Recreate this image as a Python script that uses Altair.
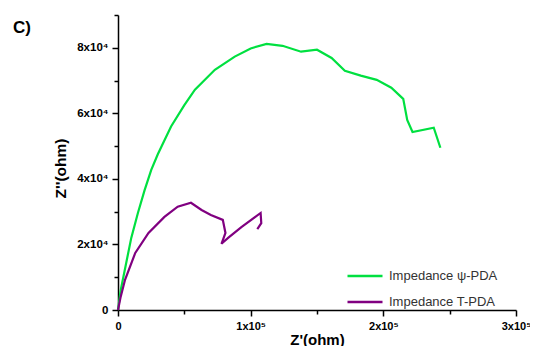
import altair as alt
import pandas as pd

# Impedance psi-PDA (Z' in ohm, Z'' in ohm)
psi_x = [0, 2000, 5000, 10000, 15000, 20000, 25000, 30000, 40000, 50000, 58000, 73000,
         88000, 100000, 112000, 124000, 138000, 150000, 161000, 171000, 183000, 195000,
         206000, 215000, 218000, 222000, 238000, 243000]
psi_y = [0, 6000, 12000, 22000, 29600, 36500, 42700, 47500, 56000, 62500, 67200, 73300,
         77300, 79800, 81200, 80600, 78800, 79400, 76900, 73000, 71500, 70200,
         67800, 64400, 58000, 54300, 55600, 49500]

# Impedance T-PDA
t_x = [0, 2000, 5300, 13000, 23000, 35000, 45000, 55000, 63000, 70000, 79000, 81000,
       78000, 83000, 93000, 107500, 108000, 105000]
t_y = [0, 4000, 9200, 17400, 23500, 28400, 31500, 32700, 30500, 29000, 27500, 23500,
       20200, 22000, 25300, 29600, 26500, 24700]

series_names = ["Impedance \u03c8-PDA", "Impedance T-PDA"]
colors = ["#00e040", "#800080"]

rows = []
for i, (x, y) in enumerate(zip(psi_x, psi_y)):
    rows.append({"x": x, "y": y, "s": series_names[0], "i": i})
for i, (x, y) in enumerate(zip(t_x, t_y)):
    rows.append({"x": x, "y": y, "s": series_names[1], "i": i})
df = pd.DataFrame(rows)

FONT = "Liberation Sans"

x_axis = alt.Axis(
    values=[0, 50000, 100000, 150000, 200000, 250000, 300000],
    labelExpr="datum.value == 0 ? '0' : (datum.value % 100000 == 0 ? (datum.value/100000) + 'x10\u2075' : '')",
    title="Z'(ohm)", titleFont=FONT, titleFontSize=15, titleFontWeight="bold",
    titleColor="black", titlePadding=1,
    labelFont=FONT, labelFontSize=11, labelFontWeight="bold", labelColor="black",
    labelPadding=4, labelFlush=False, labelOverlap=False,
    domainColor="black", domainWidth=1.5, tickColor="black", tickWidth=1.5,
    tickSize=alt.ExprRef(expr="datum.value % 100000 == 0 ? 6 : 4"),
    grid=False,
)
y_axis = alt.Axis(
    values=[0, 10000, 20000, 30000, 40000, 50000, 60000, 70000, 80000, 90000],
    labelExpr="datum.value == 0 ? '0' : (datum.value % 20000 == 0 ? (datum.value/10000) + 'x10\u2074' : '')",
    title="Z''(ohm)", titleFont=FONT, titleFontSize=15.5, titleFontWeight="bold",
    titleColor="black", titlePadding=8, titleY=153,
    labelFont=FONT, labelFontSize=11.5, labelFontWeight="bold", labelColor="black",
    labelPadding=4, labelFlush=False, labelOverlap=False,
    domainColor="black", domainWidth=1.5, tickColor="black", tickWidth=1.5,
    tickSize=alt.ExprRef(expr="datum.value % 20000 == 0 ? 6 : 4"),
    grid=False,
)

chart = alt.Chart(df).mark_line(strokeWidth=2.2).encode(
    x=alt.X("x:Q", scale=alt.Scale(domain=[0, 300000], nice=False), axis=x_axis),
    y=alt.Y("y:Q", scale=alt.Scale(domain=[0, 90000], nice=False), axis=y_axis),
    color=alt.Color("s:N", scale=alt.Scale(domain=series_names, range=colors),
                    legend=alt.Legend(title=None, orient="none", legendX=228, legendY=242,
                                      symbolType="stroke", symbolSize=1225,
                                      symbolStrokeWidth=2.5, labelFont=FONT,
                                      labelFontSize=13, labelColor="#333333",
                                      rowPadding=-15, labelOffset=5)),
    order="i:Q",
).properties(
    width=398, height=295,
    padding={"left": 110, "top": 7, "right": 14, "bottom": 36},
    autosize=alt.AutoSizeParams(type="none"),
    title=alt.TitleParams("C)", anchor="start", frame="group", dx=-105, dy=32,
                          font=FONT, fontSize=17, fontWeight="bold", color="black"),
).configure_view(stroke=None)

chart.save("out.html", embed_options={"renderer": "svg", "actions": False})
